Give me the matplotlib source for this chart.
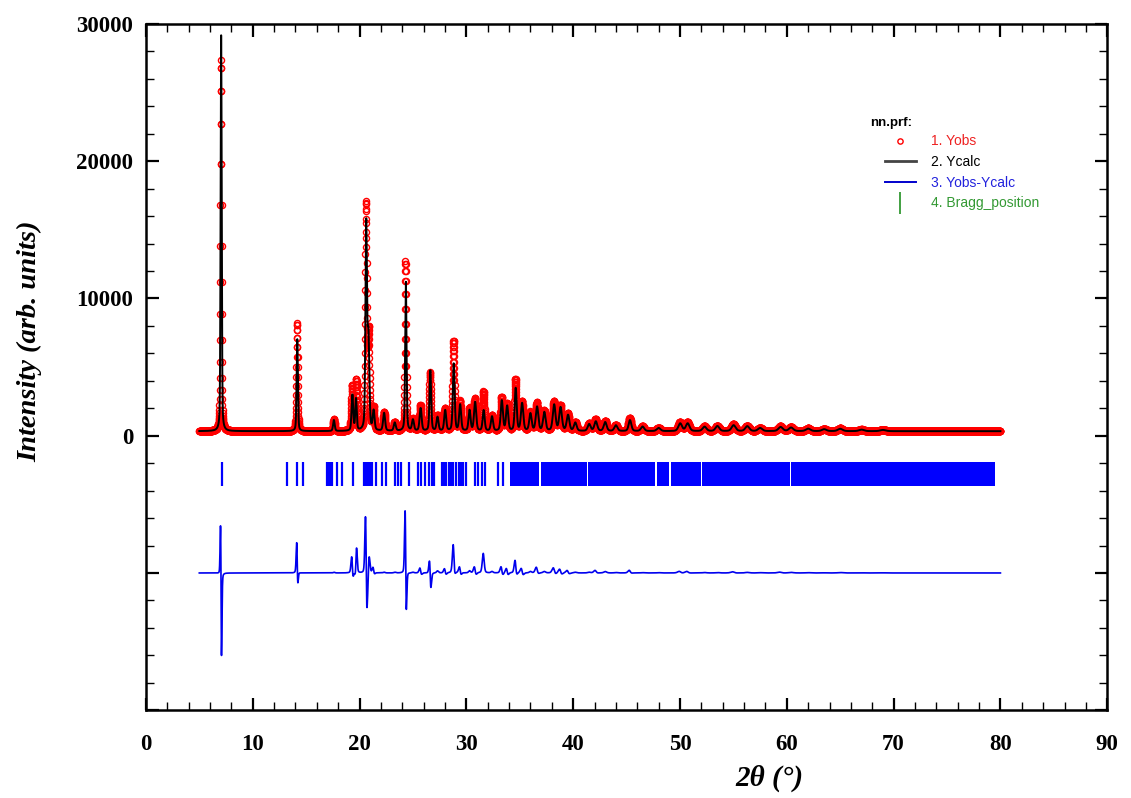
import numpy as np
import matplotlib.pyplot as plt
from matplotlib.lines import Line2D
from matplotlib.ticker import MultipleLocator, FuncFormatter

peak_pos = [7.03, 14.15, 17.6, 19.3, 19.7, 20.6, 20.85, 21.3, 22.3, 23.3, 24.3, 25.0, 25.7,
            26.6, 27.3, 28.0, 28.8, 29.4, 30.3, 30.8, 31.6, 32.4, 33.3, 33.8, 34.6, 35.2,
            36.0, 36.6, 37.3, 38.2, 38.8, 39.5, 40.2, 41.5, 42.1, 43.0, 44.0, 45.3, 46.5,
            48.0, 50.0, 50.7, 52.3, 53.5, 55.0, 56.3, 57.5, 59.4, 60.4, 62.0, 63.5, 65.0,
            67.0, 69.0]
obs_height = [27050, 7850, 850, 3300, 3700, 16350, 7000, 1650, 1350, 650, 12350, 850, 1850,
              4250, 1150, 1650, 6550, 2150, 1650, 2350, 2850, 1150, 2450, 1950, 3750, 2150,
              1350, 2050, 1450, 2150, 1850, 1250, 650, 550, 850, 750, 450, 950, 350,
              250, 650, 650, 350, 400, 500, 400, 250, 350, 300, 200, 150, 200,
              120, 100]
calc_height = [29000, 6700, 800, 2600, 2300, 14800, 6600, 1400, 1300, 600, 10900, 800, 1650,
               4400, 1000, 1500, 4900, 1900, 1500, 2100, 1500, 1050, 2200, 1800, 3100, 2000,
               1250, 1750, 1350, 1900, 1700, 1150, 600, 500, 700, 650, 420, 800, 330,
               230, 560, 560, 320, 370, 430, 360, 230, 300, 260, 180, 140, 170,
               110, 90]
fwhm = [0.12, 0.14, 0.18, 0.18, 0.16, 0.17, 0.2, 0.2, 0.22, 0.22, 0.15, 0.22, 0.22,
        0.18, 0.22, 0.22, 0.2, 0.22, 0.22, 0.24, 0.22, 0.24, 0.24, 0.24, 0.22, 0.26,
        0.26, 0.28, 0.28, 0.3, 0.3, 0.3, 0.3, 0.32, 0.32, 0.32, 0.34, 0.3, 0.36,
        0.4, 0.4, 0.4, 0.42, 0.42, 0.44, 0.44, 0.46, 0.48, 0.48, 0.5, 0.5, 0.52,
        0.55, 0.6]
calc_shift = [0.015, 0.02, 0, 0.03, -0.03, 0.025, -0.02, 0.02, 0, 0, 0.035, 0, 0.02,
              0.03, 0, 0.02, 0.02, 0.02, 0, 0.02, 0.02, 0, 0.02, 0.02, 0.02, 0.02,
              0, 0.02, 0, 0.02, 0.02, 0.02, 0, 0, 0.02, 0, 0, 0.02, 0,
              0, 0.02, 0.02, 0, 0, 0.02, 0, 0, 0.02, 0, 0, 0, 0,
              0, 0]
background = 330
two_theta_start, two_theta_end, two_theta_step = 5.0, 80.0, 0.01
diff_offset = -10000

# reflection positions (isolated ticks) and densely packed ranges
bragg_pos = [7.1, 13.2, 14.1, 14.7, 16.95, 17.1, 17.3, 17.45, 17.9, 18.35, 19.4,
             20.45, 20.6, 20.75, 20.9, 21.05, 21.2, 21.5, 22.1, 22.45, 23.3, 23.6, 23.9,
             24.6, 25.5, 25.8, 26.1, 26.5, 26.75, 27.0, 27.7, 27.9, 28.1, 28.4, 28.6, 28.75,
             29.0, 29.3, 29.5, 29.7, 29.95, 30.85, 31.05, 31.5, 31.7, 33.0, 33.4]
bragg_bands = [(34.05, 36.8), (36.95, 41.3), (41.4, 47.7), (47.85, 49.0), (49.15, 51.95),
               (52.1, 60.3), (60.4, 79.5)]


def pseudo_voigt(x, center, height, width, eta=0.35):
    g = np.exp(-4 * np.log(2) * (x - center) ** 2 / width ** 2)
    l = 1 / (1 + 4 * (x - center) ** 2 / width ** 2)
    return height * (eta * l + (1 - eta) * g)


tt = np.arange(two_theta_start, two_theta_end + two_theta_step / 2, two_theta_step)
y_obs = np.full_like(tt, background, dtype=float)
y_calc = np.full_like(tt, background, dtype=float)
for p, ho, hc, w, d in zip(peak_pos, obs_height, calc_height, fwhm, calc_shift):
    y_obs += pseudo_voigt(tt, p, ho, w)
    y_calc += pseudo_voigt(tt, p + d, hc, w)
y_diff = y_obs - y_calc + diff_offset

plt.rcParams['font.family'] = 'Liberation Serif'
fig = plt.figure(figsize=(11.31, 7.98), dpi=100)
ax = fig.add_axes([0.129, 0.110, 0.850, 0.860])

ax.plot(tt, y_obs, linestyle='none', marker='o', markersize=4.4, markerfacecolor='none',
        markeredgecolor='#ff0000', markeredgewidth=1.0, zorder=2)
ax.plot(tt, y_calc, color='black', linewidth=1.4, zorder=3)
ax.plot(tt, y_diff, color='#0000ee', linewidth=1.2, zorder=3)
ax.vlines(bragg_pos, -3700, -1900, color='#0000ff', linewidth=1.6, zorder=2)
ax.broken_barh([(a, b - a) for a, b in bragg_bands], (-3700, 1800), facecolor='#0000ff',
               edgecolor='none', zorder=2)

ax.set_xlim(0, 90)
ax.set_ylim(-20000, 30000)
ax.xaxis.set_major_locator(MultipleLocator(10))
ax.xaxis.set_minor_locator(MultipleLocator(2))
ax.yaxis.set_major_locator(MultipleLocator(10000))
ax.yaxis.set_minor_locator(MultipleLocator(2000))
ax.yaxis.set_major_formatter(FuncFormatter(lambda v, pos: '%d' % v if v >= 0 else ''))
ax.tick_params(which='both', direction='in', top=True, right=True)
ax.tick_params(which='major', length=9, width=1.6, labelsize=16.5)
ax.tick_params(which='minor', length=5.5, width=1.0)
ax.tick_params(axis='x', which='major', pad=17)
ax.tick_params(axis='y', which='major', pad=9)
for lab in ax.get_xticklabels() + ax.get_yticklabels():
    lab.set_fontweight('bold')
for sp in ax.spines.values():
    sp.set_linewidth(1.8)

ax.set_xlabel('2θ (°)', fontsize=21, fontweight='bold', fontstyle='italic')
ax.set_ylabel('Intensity (arb. units)', fontsize=20.5, fontweight='bold', fontstyle='italic')
ax.xaxis.set_label_coords(0.649, -0.080)
ax.yaxis.set_label_coords(-0.108, 0.538)

ax.text(0.753, 0.856, 'nn.prf:', transform=ax.transAxes, ha='left', va='center',
        family='Liberation Sans', fontsize=9.5, fontweight='bold')
handles = [
    Line2D([], [], linestyle='none', marker='o', markersize=3.8, markerfacecolor='none',
           markeredgecolor='#ff0000', markeredgewidth=1.0),
    Line2D([], [], color='#444444', linewidth=2.0),
    Line2D([], [], color='#0000cc', linewidth=1.4),
    Line2D([], [], linestyle='none', marker='|', markersize=16, markeredgewidth=1.3,
           color='#339933'),
]
labels = ['1. Yobs', '2. Ycalc', '3. Yobs-Ycalc', '4. Bragg_position']
leg = ax.legend(handles, labels, loc='upper left', bbox_to_anchor=(0.763, 0.847),
                frameon=False, handlelength=2.2, handletextpad=1.1,
                labelspacing=0.48, borderaxespad=0,
                labelcolor=['#ee2222', 'black', '#2222dd', '#339933'],
                prop={'family': 'Liberation Sans', 'size': 10})

fig.savefig('out.png', dpi=100)
